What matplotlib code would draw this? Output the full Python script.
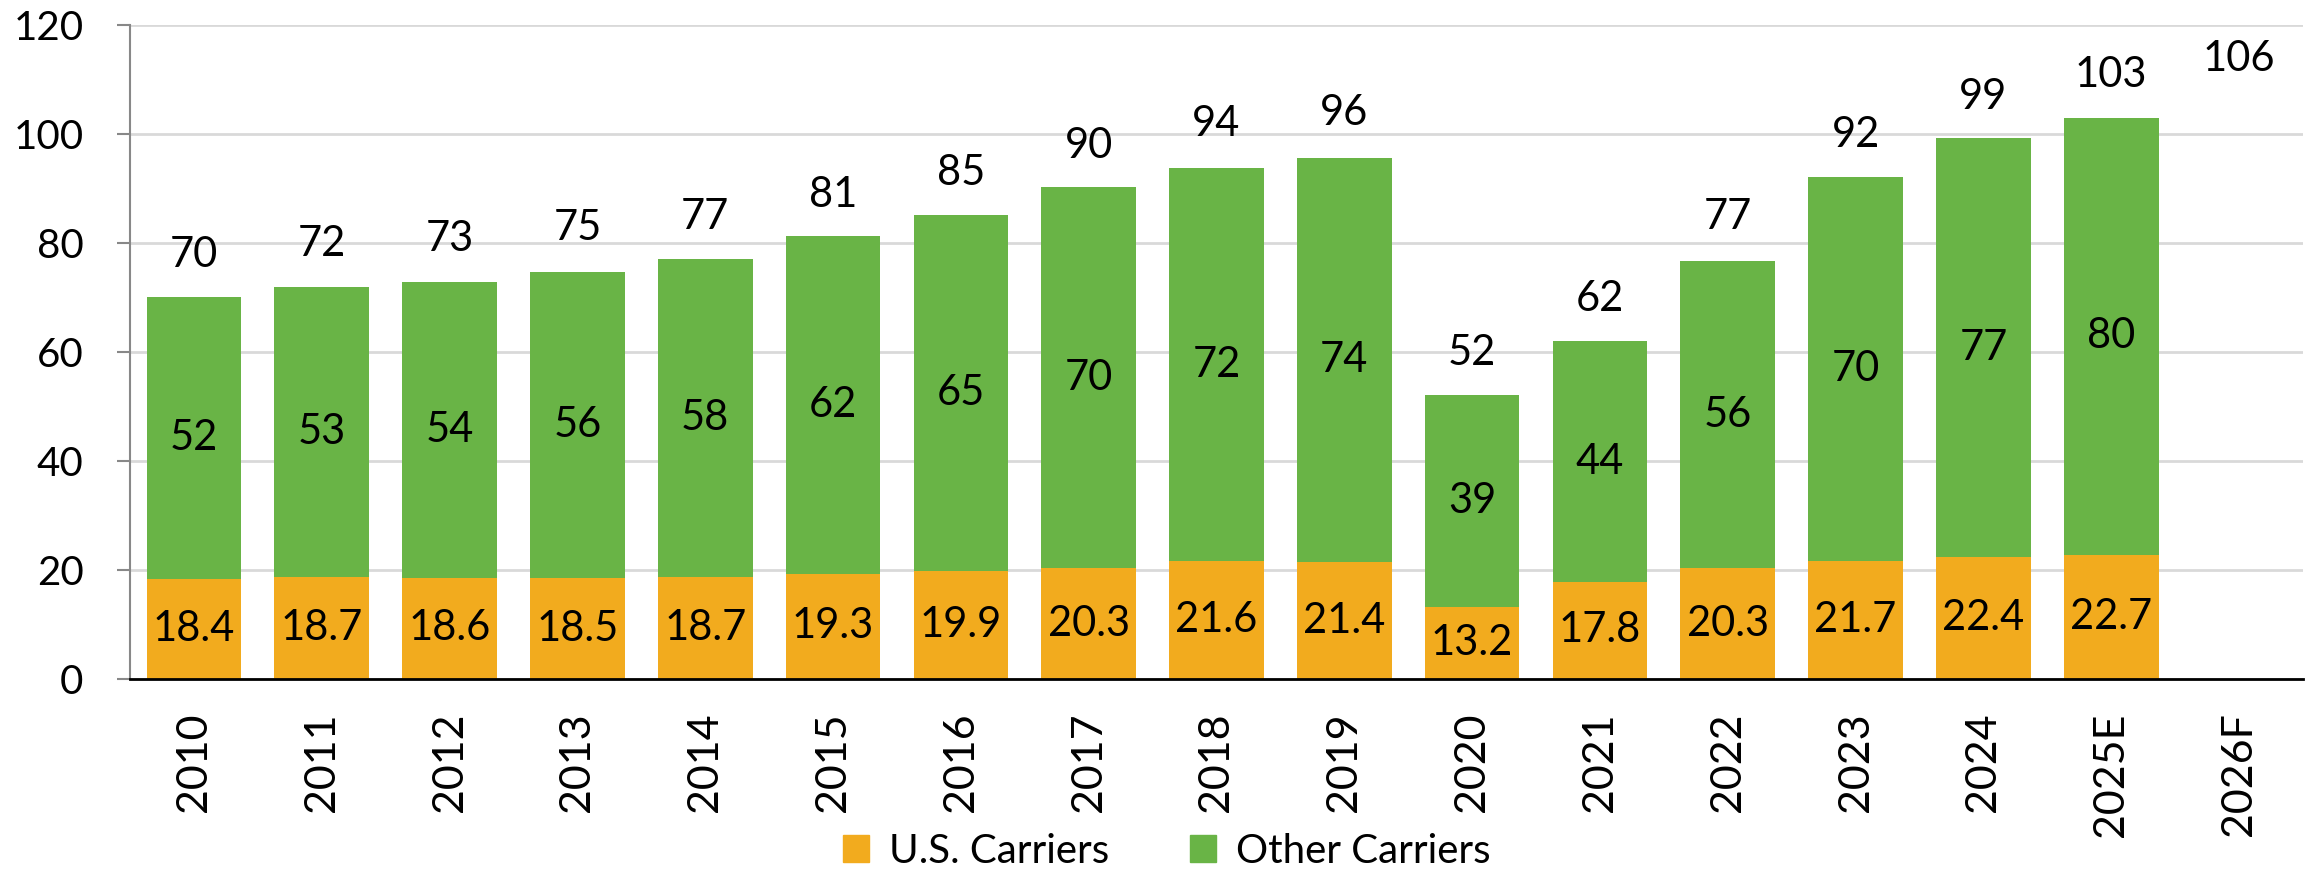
import numpy as np
import matplotlib
matplotlib.use("Agg")
import matplotlib.pyplot as plt
from matplotlib.patches import Patch

# data
years = ["2010", "2011", "2012", "2013", "2014", "2015", "2016", "2017", "2018",
         "2019", "2020", "2021", "2022", "2023", "2024", "2025E", "2026F"]
us_carriers = [18.4, 18.7, 18.6, 18.5, 18.7, 19.3, 19.9, 20.3, 21.6,
               21.4, 13.2, 17.8, 20.3, 21.7, 22.4, 22.7]
other_carriers = [51.6, 53.3, 54.2, 56.2, 58.3, 62.0, 65.2, 69.9, 72.2,
                  74.2, 38.9, 44.2, 56.4, 70.4, 76.8, 80.3]
totals = [70, 72, 73, 75, 77, 81, 85, 90, 94, 96, 52, 62, 77, 92, 99, 103, 106]

ORANGE = "#F2AB1E"
GREEN = "#69B446"

plt.rcParams["font.family"] = ["Lato", "DejaVu Sans"]

fig = plt.figure(figsize=(23.13, 8.72), dpi=100)
ax = fig.add_axes([130 / 2313, 1 - 679 / 872, (2303 - 130) / 2313, (679 - 25) / 872])

x = np.arange(len(years))
n = len(us_carriers)
w = 0.74

ax.bar(x[:n], us_carriers, width=w, color=ORANGE, zorder=3)
ax.bar(x[:n], other_carriers, width=w, bottom=us_carriers, color=GREEN, zorder=3)

for i in range(n):
    ax.text(x[i], us_carriers[i] / 2, f"{us_carriers[i]:.1f}", ha="center", va="center",
            fontsize=30, zorder=4)
    ax.text(x[i], us_carriers[i] + other_carriers[i] / 2, f"{other_carriers[i]:.0f}",
            ha="center", va="center", fontsize=30, zorder=4)
for i, t in enumerate(totals):
    ax.text(x[i], t + 7.8, f"{t}", ha="center", va="center", fontsize=30, zorder=4)

ax.set_xlim(-0.5, len(years) - 0.5)
ax.set_ylim(0, 120)
ax.set_yticks(np.arange(0, 121, 20))
ax.set_xticks(x)
ax.set_xticklabels(years, rotation=90, fontsize=31, va="top")
ax.tick_params(axis="x", length=0, pad=24)
ax.tick_params(axis="y", length=9.5, width=1.5, color="#888888", labelsize=29, pad=24)

ax.yaxis.grid(True, color="#d9d9d9", linewidth=2, zorder=0)
ax.set_axisbelow(True)
for s in ["top", "right"]:
    ax.spines[s].set_visible(False)
ax.spines["left"].set_color("#888888")
ax.spines["left"].set_linewidth(1.5)
ax.spines["bottom"].set_color("black")
ax.spines["bottom"].set_linewidth(2)
ax.spines["bottom"].set_zorder(5)

handles = [Patch(color=ORANGE, label="U.S. Carriers"), Patch(color=GREEN, label="Other Carriers")]
fig.legend(handles=handles, loc="center", bbox_to_anchor=(1167 / 2313, 1 - 851 / 872),
           ncol=2, frameon=False, fontsize=29, handlelength=0.65, handleheight=0.65,
           handletextpad=0.5, columnspacing=2.0)

fig.savefig("out.png", dpi=100)
